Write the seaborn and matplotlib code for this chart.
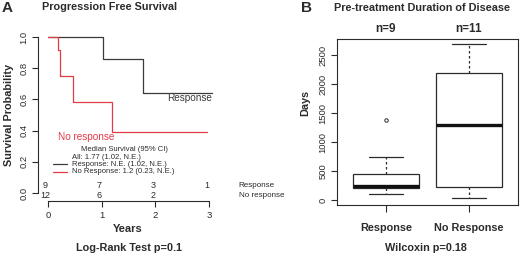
import matplotlib
matplotlib.use("Agg")
from matplotlib import pyplot as plt
import seaborn as sns
import pandas as pd

# Kaplan-Meier step curves (years, survival probability)
resp_times = [0, 1.02, 1.77, 3.05]
resp_surv = [1.0, 0.857, 0.643, 0.643]
noresp_times = [0, 0.18, 0.23, 0.46, 1.2, 2.96]
noresp_surv = [1.0, 0.917, 0.75, 0.583, 0.389, 0.389]

# numbers at risk
risk_years = [0, 1, 2, 3]
risk_resp = [9, 7, 3, 1]
risk_noresp = [12, 6, 2]

legend_lines = ["All: 1.77 (1.02, N.E.)",
                "Response: N.E. (1.02, N.E.)",
                "No Response: 1.2 (0.23, N.E.)"]

# pre-treatment duration of disease (days)
resp_days = [103, 190, 200, 230, 246, 300, 448, 736, 1379]
noresp_days = [40, 120, 200, 260, 900, 1293, 1700, 2100, 2290, 2500, 2684]
groups = ["Response", "No Response"]

sns.set_style("ticks")
plt.rcParams["font.family"] = ["Liberation Sans", "DejaVu Sans"]

INK = "#2b2b2b"
RED = "#e23b48"

fig = plt.figure(figsize=(5.2, 2.57), dpi=100)

# ---------------- panel A ----------------
ax1 = fig.add_axes([38 / 520, 1 - 201 / 257, 202 / 520, 171 / 257])
km = pd.concat([
    pd.DataFrame({"t": resp_times, "s": resp_surv, "g": "Response"}),
    pd.DataFrame({"t": noresp_times, "s": noresp_surv, "g": "No response"}),
])
sns.lineplot(data=km, x="t", y="s", hue="g", palette={"Response": "#3a3a3a", "No response": RED},
             drawstyle="steps-post", linewidth=0.9, legend=False, ax=ax1, estimator=None, sort=False)
ax1.set_xlim(-0.186, 3.575)
ax1.set_ylim(-0.051, 1.045)
for s in ["top", "right"]:
    ax1.spines[s].set_visible(False)
ax1.spines["left"].set_bounds(0, 1)
ax1.spines["bottom"].set_bounds(0, 3)
for s in ["left", "bottom"]:
    ax1.spines[s].set_linewidth(0.8)
    ax1.spines[s].set_color(INK)
ax1.set_xticks(risk_years)
ax1.set_yticks([0, 0.2, 0.4, 0.6, 0.8, 1.0])
ax1.set_yticklabels(["0.0", "0.2", "0.4", "0.6", "0.8", "1.0"], rotation=90, va="center")
ax1.tick_params(axis="both", labelsize=6.8, colors=INK, length=4, width=0.8, pad=3)
ax1.set_xlabel("")
ax1.set_ylabel("")

ax1.text(3.05, 0.61, "Response", fontsize=7.2, color="#3a3a3a", ha="right", va="center")
ax1.text(0.18, 0.357, "No response", fontsize=7.2, color=RED, ha="left", va="center")

ax1.text(0.62, 0.28, "Median Survival (95% CI)", fontsize=5.5, color=INK, ha="left", va="center")
ax1.text(0.44, 0.231, legend_lines[0], fontsize=5.5, color=INK, ha="left", va="center")
ax1.text(0.44, 0.186, legend_lines[1], fontsize=5.5, color=INK, ha="left", va="center")
ax1.text(0.44, 0.135, legend_lines[2], fontsize=5.5, color=INK, ha="left", va="center")
ax1.plot([0.09, 0.35], [0.186, 0.186], color="#3a3a3a", lw=0.9)
ax1.plot([0.09, 0.35], [0.135, 0.135], color=RED, lw=0.9)

for yr, n in zip(risk_years, risk_resp):
    ax1.text(yr - 0.05, 0.051, str(n), fontsize=6.5, color=INK, ha="center", va="center")
for yr, n in zip(risk_years, risk_noresp):
    ax1.text(yr - 0.05, -0.013, str(n), fontsize=6.5, color=INK, ha="center", va="center")
ax1.text(3.55, 0.051, "Response", fontsize=5.8, color=INK, ha="left", va="center", clip_on=False)
ax1.text(3.55, -0.013, "No response", fontsize=5.8, color=INK, ha="left", va="center", clip_on=False)

fig.text(7 / 520, 1 - 8 / 257, "A", fontsize=11, fontweight="bold", color=INK, ha="center", va="center")
fig.text(110 / 520, 1 - 7 / 257, "Progression Free Survival", fontsize=7.8, fontweight="bold",
         color=INK, ha="center", va="center")
fig.text(9 / 520, 1 - 115 / 257, "Survival Probability", fontsize=7.8, fontweight="bold",
         color=INK, ha="center", va="center", rotation=90)
fig.text(128 / 520, 1 - 229 / 257, "Years", fontsize=8, fontweight="bold", color=INK,
         ha="center", va="center")
fig.text(129 / 520, 1 - 248 / 257, "Log-Rank Test p=0.1", fontsize=7.8, fontweight="bold",
         color=INK, ha="center", va="center")

# ---------------- panel B ----------------
ax2 = fig.add_axes([337 / 520, 1 - 205 / 257, 181 / 520, 166 / 257])
dur = pd.DataFrame({
    "group": ["Response"] * len(resp_days) + ["No Response"] * len(noresp_days),
    "days": resp_days + noresp_days,
})
sns.boxplot(data=dur, x="group", y="days", order=groups, color="white", linecolor=INK,
            linewidth=0.9, width=0.8, whis=1.5, ax=ax2,
            whiskerprops=dict(linestyle=(0, (2, 2))),
            medianprops=dict(linewidth=2.4, color="#111111"),
            flierprops=dict(marker="o", markerfacecolor="none", markeredgecolor=INK,
                            markersize=2.5, markeredgewidth=0.7))
ax2.set_xlim(-0.59, 1.59)
ax2.set_ylim(-86, 2776)
ax2.set_yticks([0, 500, 1000, 1500, 2000, 2500])
ax2.set_yticklabels(["0", "500", "1000", "1500", "2000", "2500"], rotation=90, va="center")
ax2.tick_params(axis="y", labelsize=6.8, colors=INK, length=4, width=0.8, pad=3)
ax2.tick_params(axis="x", labelsize=7.8, colors=INK, length=5, width=0.8, pad=8)
for lab in ax2.get_xticklabels():
    lab.set_fontweight("bold")
for s in ax2.spines.values():
    s.set_linewidth(0.8)
    s.set_color(INK)
ax2.set_xlabel("")
ax2.set_ylabel("")
for i, vals in enumerate([resp_days, noresp_days]):
    ax2.text(i, 2950, f"n={len(vals)}", fontsize=8.5, fontweight="bold", color=INK,
             ha="center", va="center", clip_on=False)

fig.text(307 / 520, 1 - 8 / 257, "B", fontsize=11, fontweight="bold", color=INK, ha="center", va="center")
fig.text(422 / 520, 1 - 8 / 257, "Pre-treatment Duration of Disease", fontsize=7.8, fontweight="bold",
         color=INK, ha="center", va="center")
fig.text(305 / 520, 1 - 103 / 257, "Days", fontsize=7.8, fontweight="bold", color=INK,
         ha="center", va="center", rotation=90)
fig.text(426 / 520, 1 - 248 / 257, "Wilcoxin p=0.18", fontsize=7.8, fontweight="bold",
         color=INK, ha="center", va="center")

fig.savefig("out.png", dpi=100, facecolor="white")
